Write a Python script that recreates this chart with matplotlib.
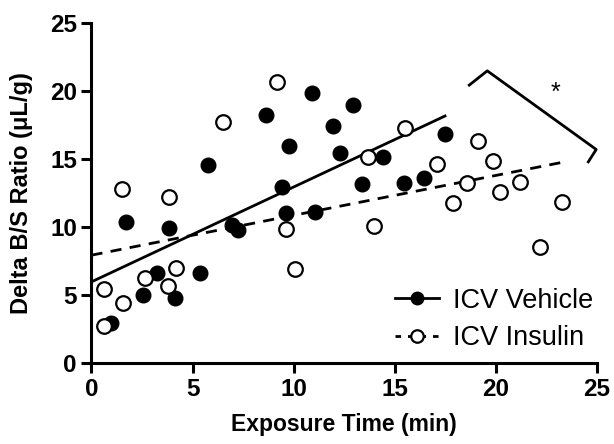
import numpy as np
import matplotlib
matplotlib.use("Agg")
import matplotlib.pyplot as plt

plt.rcParams['font.family'] = ['Liberation Sans', 'DejaVu Sans']

# ICV Vehicle (filled)
veh_x = [1.73, 0.99, 2.56, 3.22, 3.84, 4.12, 5.77, 5.39, 6.93, 7.26, 8.63, 9.45, 9.78, 9.62,
         10.89, 11.07, 11.93, 12.29, 12.95, 13.37, 14.40, 15.46, 16.47, 17.49]
veh_y = [10.39, 2.96, 5.00, 6.60, 9.95, 4.76, 14.54, 6.60, 10.15, 9.78, 18.24, 12.97, 15.96, 11.05,
         19.83, 11.13, 17.43, 15.42, 18.97, 13.16, 15.17, 13.26, 13.58, 16.84]

# ICV Insulin (open)
ins_x = [0.61, 0.61, 1.53, 1.56, 2.67, 3.84, 3.79, 4.17, 6.52, 9.16, 9.62, 10.06,
         15.51, 13.69, 13.99, 17.11, 17.90, 18.56, 19.11, 19.88, 20.21, 21.20, 22.19, 23.27]
ins_y = [5.49, 2.74, 12.84, 4.46, 6.23, 12.23, 5.66, 7.03, 17.74, 20.69, 9.90, 6.96,
         17.26, 15.12, 10.10, 14.63, 11.74, 13.21, 16.35, 14.88, 12.60, 13.29, 8.55, 11.86]

# regression lines (intercept, slope)
veh_fit = (5.98, 0.697)
ins_fit = (7.94, 0.293)

fig = plt.figure(figsize=(6.14, 4.44), dpi=100)
ax = fig.add_axes([0.149, 0.182, 0.823, 0.766])

xv = np.array([0, max(veh_x)])
ax.plot(xv, veh_fit[0] + veh_fit[1] * xv, color='black', lw=2, zorder=2)
xi = np.array([0, max(ins_x)])
ax.plot(xi, ins_fit[0] + ins_fit[1] * xi, color='black', lw=2, ls=(0, (4, 3)), zorder=2)

ax.plot(veh_x, veh_y, 'o', color='black', ms=10.5, zorder=3)
ax.plot(ins_x, ins_y, 'o', mfc='white', mec='black', mew=1.6, ms=10.5, zorder=3)

# legend handles
h1, = ax.plot([], [], '-o', color='black', lw=2, ms=9)
h2, = ax.plot([], [], 'o', ls=(0, (2, 2.5)), color='black', mfc='white', mew=1.6, lw=2, ms=9)
leg = ax.legend([h1, h2], ['ICV Vehicle', 'ICV Insulin'], loc='lower left', frameon=False,
                fontsize=19.5, handlelength=1.65, handletextpad=0.5, borderpad=0,
                borderaxespad=0, labelspacing=0.42, bbox_to_anchor=(0.60, 0.035))

# significance bracket
ax.plot([18.69, 19.58, 24.97, 24.58], [20.44, 21.49, 15.71, 14.80], color='black', lw=2,
        clip_on=False)
ax.text(22.98, 19.9, '*', fontsize=18, ha='center', va='center')

ax.set_xlim(0, 25)
ax.set_ylim(0, 25)
ax.set_xticks([0, 5, 10, 15, 20, 25])
ax.set_yticks([0, 5, 10, 15, 20, 25])
for s in ['top', 'right']:
    ax.spines[s].set_visible(False)
for s in ['left', 'bottom']:
    ax.spines[s].set_linewidth(2.2)
ax.tick_params(width=2.2, length=7, labelsize=17.5)
for lab in ax.get_xticklabels() + ax.get_yticklabels():
    lab.set_fontweight('bold')
ax.set_xlabel('Exposure Time (min)', fontsize=16.5, fontweight='bold', labelpad=9)
ax.set_ylabel('Delta B/S Ratio (\u03bcL/g)', fontsize=17, fontweight='bold', labelpad=12)

fig.savefig('out.png', dpi=100)
